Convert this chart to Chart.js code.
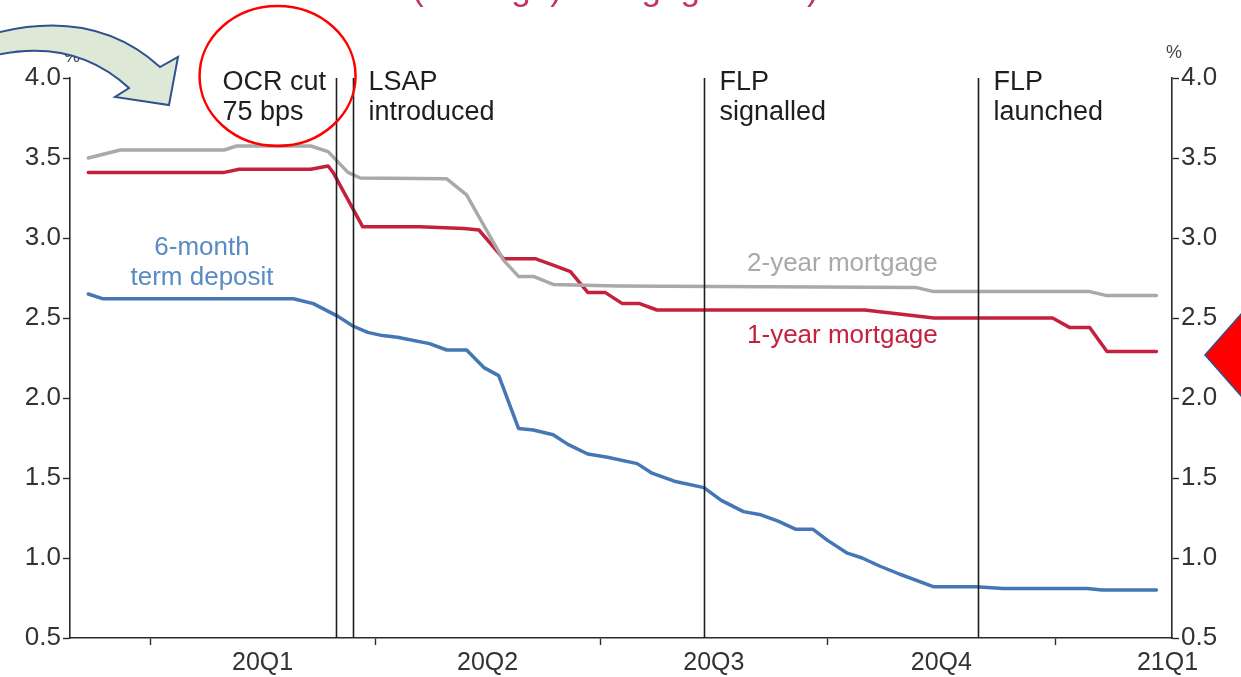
<!DOCTYPE html>
<html>
<head>
<meta charset="utf-8">
<title>Retail interest rates</title>
<script src="https://cdn.jsdelivr.net/npm/chart.js@4.4.1/dist/chart.umd.min.js"></script>
<style>
  html, body { margin: 0; padding: 0; background: #fff; }
  #wrap { width: 1241px; height: 677px; }
</style>
</head>
<body>
<div id="wrap"><canvas id="rates-chart" width="1241" height="677"></canvas></div>
<script>
// x values are days counted from 1 Jan 2020
const quarterStarts = [0, 91, 182, 274, 366];
const quarterLabels = ['20Q1', '20Q2', '20Q3', '20Q4', '21Q1'];
const quarterMids = [45.5, 136.5, 228, 320, 411.5];

const depositDays  = [-25, -19, 58, 66, 76, 82, 88, 94, 100, 113, 120, 128, 135, 141, 149, 155, 163, 169, 177, 185, 197, 203, 212, 224, 231, 240, 247, 254, 261, 268, 274, 282, 288, 295, 303, 317, 334, 345, 379, 385, 407];
const depositRates = [2.65, 2.62, 2.62, 2.59, 2.51, 2.45, 2.41, 2.39, 2.38, 2.34, 2.30, 2.30, 2.19, 2.14, 1.81, 1.80, 1.77, 1.71, 1.65, 1.63, 1.59, 1.53, 1.48, 1.44, 1.36, 1.29, 1.27, 1.23, 1.18, 1.18, 1.11, 1.03, 1.00, 0.95, 0.90, 0.82, 0.82, 0.81, 0.81, 0.80, 0.80];

const oneYearDays  = [-25, 30, 36, 65, 72, 74, 86, 109, 127, 133, 143, 156, 163, 170, 177, 184, 191, 198, 205, 289, 317, 365, 372, 380, 387, 407];
const oneYearRates = [3.41, 3.41, 3.43, 3.43, 3.45, 3.41, 3.07, 3.07, 3.06, 3.05, 2.87, 2.87, 2.83, 2.79, 2.66, 2.66, 2.59, 2.59, 2.55, 2.55, 2.50, 2.50, 2.44, 2.44, 2.29, 2.29];

const twoYearDays  = [-25, -12, 30, 35, 65, 72, 80, 85, 120, 128, 136, 143, 149, 155, 163, 189, 310, 317, 380, 387, 407];
const twoYearRates = [3.50, 3.55, 3.55, 3.575, 3.575, 3.54, 3.41, 3.375, 3.37, 3.27, 3.05, 2.86, 2.76, 2.76, 2.71, 2.70, 2.69, 2.665, 2.665, 2.64, 2.64];

// policy events marked with vertical lines
const eventDays = [75, 82, 224, 335];
const eventText = [['OCR cut', '75 bps'], ['LSAP', 'introduced'], ['FLP', 'signalled'], ['FLP', 'launched']];

const yTicks = [0.5, 1.0, 1.5, 2.0, 2.5, 3.0, 3.5, 4.0];

const FONT = '"Liberation Sans", Arial, Helvetica, sans-serif';
const INK = '#2b2b2b';
const BLUE = '#4477b4';
const RED = '#c4213f';
const GREY = '#a9a9a9';

function toPoints(xs, ys) {
  return xs.map((x, i) => ({ x: x, y: ys[i] }));
}

const overlays = {
  id: 'overlays',
  afterDatasetsDraw(chart) {
    const ctx = chart.ctx;
    const xs = chart.scales.x;
    const ys = chart.scales.y;
    const area = chart.chartArea;
    ctx.save();

    // event lines and their captions
    ctx.strokeStyle = '#1e1e1e';
    ctx.lineWidth = 1.6;
    ctx.fillStyle = '#1e1e1e';
    ctx.font = '27px ' + FONT;
    ctx.textBaseline = 'alphabetic';
    ctx.textAlign = 'left';
    eventDays.forEach((d, i) => {
      const px = Math.round(xs.getPixelForValue(d)) + 0.5;
      ctx.beginPath();
      ctx.moveTo(px, area.top);
      ctx.lineTo(px, area.bottom);
      ctx.stroke();
      const tx = i === 0 ? px - 114 : px + 15;
      ctx.fillText(eventText[i][0], tx, area.top + 12);
      ctx.fillText(eventText[i][1], tx, area.top + 42);
    });

    // series captions
    ctx.font = '26px ' + FONT;
    ctx.textAlign = 'center';
    ctx.textBaseline = 'middle';
    ctx.fillStyle = '#5a8bc4';
    ctx.fillText('6-month', xs.getPixelForValue(21), ys.getPixelForValue(2.94));
    ctx.fillText('term deposit', xs.getPixelForValue(21), ys.getPixelForValue(2.75));
    ctx.fillStyle = GREY;
    ctx.fillText('2-year mortgage', xs.getPixelForValue(280), ys.getPixelForValue(2.84));
    ctx.fillStyle = RED;
    ctx.fillText('1-year mortgage', xs.getPixelForValue(280), ys.getPixelForValue(2.39));

    // red ring around the OCR cut caption
    const ox = xs.getPixelForValue(eventDays[0]);
    ctx.strokeStyle = '#ff0000';
    ctx.lineWidth = 2.5;
    ctx.beginPath();
    ctx.ellipse(ox - 58, area.top - 2, 78, 70, 0, 0, Math.PI * 2);
    ctx.stroke();
    ctx.restore();
  },
  afterDraw(chart) {
    const ctx = chart.ctx;
    const area = chart.chartArea;
    ctx.save();

    // clipped heading above the plot
    ctx.fillStyle = '#c2336b';
    ctx.font = '35px ' + FONT;
    ctx.textAlign = 'left';
    ctx.textBaseline = 'alphabetic';
    ctx.fillText('(average) mortgage rates)', 412, 0);

    // unit markers over both axes
    ctx.fillStyle = '#444';
    ctx.font = '18px ' + FONT;
    ctx.textAlign = 'center';
    ctx.textBaseline = 'middle';
    ctx.fillText('%', area.left + 2, area.top - 21);
    ctx.fillText('%', area.right + 2, area.top - 25);

    // curved call-out arrow
    ctx.fillStyle = '#dde9d6';
    ctx.strokeStyle = '#2f528f';
    ctx.lineWidth = 2;
    ctx.beginPath();
    ctx.moveTo(-4, 33);
    ctx.quadraticCurveTo(95, 8, 160, 67);
    ctx.lineTo(178, 57);
    ctx.lineTo(169, 105);
    ctx.lineTo(115, 97);
    ctx.lineTo(129, 88);
    ctx.quadraticCurveTo(75, 38, -4, 55);
    ctx.closePath();
    ctx.fill();
    ctx.stroke();

    // red pointer on the right edge
    ctx.fillStyle = '#ff0000';
    ctx.strokeStyle = '#2f528f';
    ctx.lineWidth = 1.5;
    ctx.beginPath();
    ctx.moveTo(1205, 355);
    ctx.lineTo(1242, 313);
    ctx.lineTo(1242, 397);
    ctx.closePath();
    ctx.fill();
    ctx.stroke();
    ctx.restore();
  }
};

const yAxis = (pos, w) => ({
  type: 'linear',
  position: pos,
  min: 0.5,
  max: 4.0,
  afterBuildTicks: s => { s.ticks = yTicks.map(v => ({ value: v })); },
  afterFit: s => { s.width = w; },
  border: { display: true, color: INK, width: 1.6 },
  grid: { drawOnChartArea: false, drawTicks: true, tickLength: 7, tickWidth: 1.4, tickColor: INK },
  ticks: {
    color: '#333',
    padding: 2,
    font: { family: FONT, size: 26 },
    callback: v => Number(v).toFixed(1)
  }
});

new Chart(document.getElementById('rates-chart'), {
  type: 'line',
  data: {
    datasets: [
      { label: '2-year mortgage', data: toPoints(twoYearDays, twoYearRates), borderColor: GREY, borderWidth: 3.5 },
      { label: '1-year mortgage', data: toPoints(oneYearDays, oneYearRates), borderColor: RED, borderWidth: 3.5 },
      { label: '6-month term deposit', data: toPoints(depositDays, depositRates), borderColor: BLUE, borderWidth: 3.5 }
    ]
  },
  options: {
    responsive: false,
    animation: false,
    layout: { padding: { top: 78, left: 0, right: 0, bottom: 0 } },
    elements: {
      point: { radius: 0 },
      line: { tension: 0, borderJoinStyle: 'round', borderCapStyle: 'round' }
    },
    plugins: { legend: { display: false }, tooltip: { enabled: false } },
    scales: {
      x: {
        type: 'linear',
        min: -32.4,
        max: 413.3,
        afterBuildTicks: s => {
          s.ticks = quarterStarts.map(v => ({ value: v }))
            .concat(quarterMids.map(v => ({ value: v })))
            .sort((a, b) => a.value - b.value);
        },
        afterFit: s => { s.height = 39; },
        border: { display: true, color: INK, width: 1.6 },
        grid: {
          drawOnChartArea: false,
          drawTicks: true,
          tickLength: 7,
          tickWidth: 1.4,
          tickColor: c => (c.tick && quarterStarts.includes(c.tick.value)) ? INK : 'rgba(0,0,0,0)'
        },
        ticks: {
          color: '#333',
          padding: 3,
          autoSkip: false,
          maxRotation: 0,
          font: { family: FONT, size: 25 },
          callback: v => {
            const i = quarterMids.indexOf(v);
            return i >= 0 ? quarterLabels[i] : '';
          }
        }
      },
      y: yAxis('left', 70),
      y2: yAxis('right', 69)
    }
  },
  plugins: [overlays]
});
</script>
</body>
</html>
